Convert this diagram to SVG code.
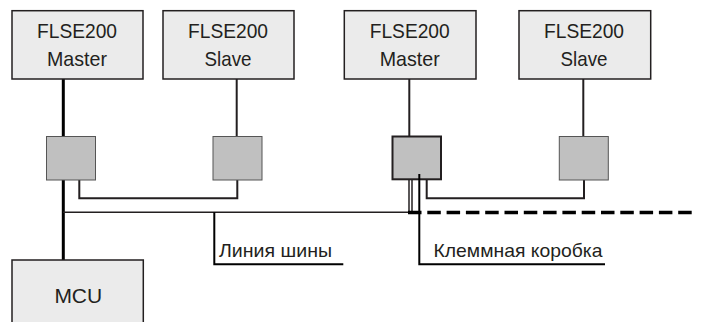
<svg xmlns="http://www.w3.org/2000/svg" width="701" height="322" viewBox="0 0 701 322">
<style>
.box{fill:#ebebeb;stroke:#231f20;stroke-width:1.5}
.jb{fill:#c0c0c0;stroke:#555;stroke-width:1}
.jbd{fill:#c0c0c0;stroke:#231f20;stroke-width:2}
.t{font-family:"Liberation Sans",Arial,sans-serif;font-size:21px;fill:#231f20;text-anchor:middle}
.lbl{font-family:"Liberation Sans",Arial,sans-serif;font-size:19px;fill:#231f20}
.ln{fill:none;stroke:#231f20;stroke-width:2}
.thk{fill:none;stroke:#000;stroke-width:3}
.thin{fill:none;stroke:#231f20;stroke-width:1.5}
.lead{fill:none;stroke:#000;stroke-width:2}
</style>
<g id="connectors">
<line class="thk" x1="63.3" y1="79" x2="63.3" y2="136"/>
<line class="thk" x1="63.3" y1="180" x2="63.3" y2="260"/>
<line class="ln" x1="236.7" y1="79" x2="236.7" y2="136"/>
<line class="ln" x1="409.3" y1="79" x2="409.3" y2="136"/>
<line class="ln" x1="583.3" y1="79" x2="583.3" y2="136"/>
<polyline class="ln" points="79.3,180 79.3,198.3 237.3,198.3 237.3,180"/>
<polyline class="ln" points="426.7,179 426.7,198.3 584,198.3 584,180"/>
<line class="thin" x1="63" y1="212.3" x2="412" y2="212.3"/>
<line class="thin" x1="409" y1="179" x2="409" y2="212.3"/>
<line class="thin" x1="412" y1="179" x2="412" y2="212.3"/>
<line x1="408" y1="212.5" x2="692" y2="212.5" stroke="#000" stroke-width="3.5" stroke-dasharray="13.5 5.8"/>
<polyline class="lead" points="214.3,212.3 214.3,264.3 343.3,264.3"/>
<polyline class="lead" points="419.3,175 419.3,264.3 605,264.3"/>
</g>
<g id="master1">
<rect class="box" x="12" y="10.7" width="131" height="68.3"/>
<text class="t" x="77" y="38.3" textLength="80" lengthAdjust="spacingAndGlyphs">FLSE200</text>
<text class="t" x="77" y="66" textLength="60" lengthAdjust="spacingAndGlyphs">Master</text>
</g>
<g id="slave1">
<rect class="box" x="163" y="10.7" width="131" height="68.3"/>
<text class="t" x="228" y="38.3" textLength="80" lengthAdjust="spacingAndGlyphs">FLSE200</text>
<text class="t" x="228" y="66" textLength="47" lengthAdjust="spacingAndGlyphs">Slave</text>
</g>
<g id="master2">
<rect class="box" x="344.3" y="10.7" width="131.7" height="68.3"/>
<text class="t" x="409.7" y="38.3" textLength="80" lengthAdjust="spacingAndGlyphs">FLSE200</text>
<text class="t" x="409.7" y="66" textLength="60" lengthAdjust="spacingAndGlyphs">Master</text>
</g>
<g id="slave2">
<rect class="box" x="519" y="10.7" width="131.7" height="68.3"/>
<text class="t" x="584" y="38.3" textLength="80" lengthAdjust="spacingAndGlyphs">FLSE200</text>
<text class="t" x="584" y="66" textLength="47" lengthAdjust="spacingAndGlyphs">Slave</text>
</g>
<g id="jb1"><rect class="jb" x="46.5" y="136.5" width="49" height="43.5"/></g>
<g id="jb2"><rect class="jb" x="213" y="136.5" width="49" height="43.5"/></g>
<g id="jb3"><rect class="jbd" x="392.5" y="136.5" width="48.5" height="42.8"/></g>
<g id="jb4"><rect class="jb" x="559.3" y="136.5" width="49" height="43.5"/></g>
<g id="leader-dot"><line class="lead" x1="419.3" y1="174" x2="419.3" y2="180"/></g>
<g id="mcu">
<rect class="box" x="12" y="260" width="131.3" height="80"/>
<text class="t" x="78.3" y="303">MCU</text>
</g>
<g id="label-bus">
<text class="lbl" x="219" y="256.5" textLength="113" lengthAdjust="spacingAndGlyphs">Линия шины</text>
</g>
<g id="label-jb">
<text class="lbl" x="433.5" y="256.5" textLength="169" lengthAdjust="spacingAndGlyphs">Клеммная коробка</text>
</g>
</svg>
